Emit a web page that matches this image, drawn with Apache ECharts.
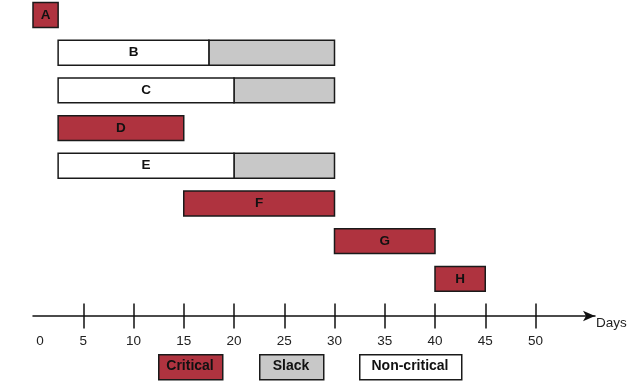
<!DOCTYPE html>
<html>
<head>
<meta charset="utf-8">
<script src="https://cdn.jsdelivr.net/npm/echarts@6/dist/echarts.min.js"></script>
<style>
html,body{margin:0;padding:0;background:#fff;}
#chart{width:640px;height:388px;}
</style>
</head>
<body>
<div id="chart"></div>
<script>
// Data
const tasks = ['A', 'B', 'C', 'D', 'E', 'F', 'G', 'H'];
const starts = [0, 2.5, 2.5, 2.5, 2.5, 15, 30, 40];
const durations = [2.5, 15, 17.5, 12.5, 17.5, 15, 10, 5];
const slacks = [0, 12.5, 10, 0, 10, 0, 0, 0];
const critical = [1, 0, 0, 1, 0, 1, 1, 1];
const tickValues = [5, 10, 15, 20, 25, 30, 35, 40, 45, 50];
const labelValues = [0, 5, 10, 15, 20, 25, 30, 35, 40, 45, 50];
const axisName = 'Days';
const legendLabels = ['Critical', 'Slack', 'Non-critical'];

const RED = '#AF333F', GREY = '#C8C8C8', WHITE = '#FFFFFF', EDGE = '#1a1a1a';

const data = tasks.map((t, i) => [i, starts[i], durations[i], slacks[i], critical[i]]);

const chart = echarts.init(document.getElementById('chart'));

function renderItem(params, api) {
  const idx = api.value(0);
  const s = api.value(1), d = api.value(2), sl = api.value(3), crit = api.value(4);
  const p0 = api.coord([s, idx]);
  const p1 = api.coord([s + d, idx]);
  const p2 = api.coord([s + d + sl, idx]);
  const h = api.size([0, 1])[1] * 0.66;
  const children = [];
  if (sl > 0) {
    children.push({
      type: 'rect',
      shape: { x: p1[0], y: p0[1] - h / 2, width: p2[0] - p1[0], height: h },
      style: { fill: GREY, stroke: EDGE, lineWidth: 1.5 }
    });
  }
  children.push({
    type: 'rect',
    shape: { x: p0[0], y: p0[1] - h / 2, width: p1[0] - p0[0], height: h },
    style: { fill: crit ? RED : WHITE, stroke: EDGE, lineWidth: 1.5 }
  });
  children.push({
    type: 'text',
    style: {
      text: tasks[idx], x: (p0[0] + p1[0]) / 2, y: p0[1],
      align: 'center', verticalAlign: 'middle',
      font: 'bold 13.5px "Liberation Sans", Arial, sans-serif', fill: '#111'
    }
  });
  return { type: 'group', children };
}

const axisFont = { fontFamily: '"Liberation Sans", Arial, sans-serif', fontSize: 13.5, color: '#222' };

const legendX = [158, 259, 359];
const legendW = [64, 64, 102];
const legendFill = [RED, GREY, WHITE];
const graphics = [];
legendLabels.forEach((l, i) => {
  graphics.push({
    type: 'rect', left: legendX[i], top: 354,
    shape: { width: legendW[i], height: 25 },
    style: { fill: legendFill[i], stroke: EDGE, lineWidth: 1.5 }
  });
  graphics.push({
    type: 'text', x: legendX[i] + legendW[i] / 2, y: 366.5,
    style: {
      text: l, align: 'center', verticalAlign: 'middle',
      font: 'bold 14px "Liberation Sans", Arial, sans-serif', fill: '#111'
    }
  });
});

const X_MAX = 55.92;

chart.setOption({
  animation: false,
  grid: { left: 33, top: 0, width: 562, height: 316, containLabel: false, outerBoundsMode: 'none' },
  xAxis: [{
    type: 'value', min: 0, max: X_MAX, position: 'bottom',
    axisLine: { show: true, onZero: false, symbol: ['none', 'arrow'], symbolSize: [8, 12], symbolOffset: [0, 0], lineStyle: { color: '#111', width: 1.5 } },
    axisTick: { show: true, inside: false, length: 12.5, customValues: tickValues, lineStyle: { color: '#111', width: 1.5 } },
    axisLabel: {
      show: true, margin: 18, customValues: labelValues, ...axisFont,
      formatter: v => v === 0 ? '{z|0}' : String(v),
      rich: { z: { padding: [0, 0, 0, 14], ...axisFont } }
    },
    splitLine: { show: false },
    name: axisName, nameLocation: 'end', nameGap: 1,
    nameTextStyle: { ...axisFont, verticalAlign: 'top' }
  }, {
    type: 'value', min: 0, max: X_MAX, position: 'bottom',
    axisLine: { show: false, onZero: false },
    axisTick: { show: true, inside: true, length: 12.5, customValues: tickValues, lineStyle: { color: '#111', width: 1.5 } },
    axisLabel: { show: false },
    splitLine: { show: false }
  }],
  yAxis: {
    type: 'value', inverse: true, min: -0.398, max: 7.986, show: false,
    splitLine: { show: false }
  },
  series: [{
    type: 'custom', renderItem, data,
    encode: { x: [1], y: 0 }, clip: false
  }],
  graphic: graphics
});
</script>
</body>
</html>
